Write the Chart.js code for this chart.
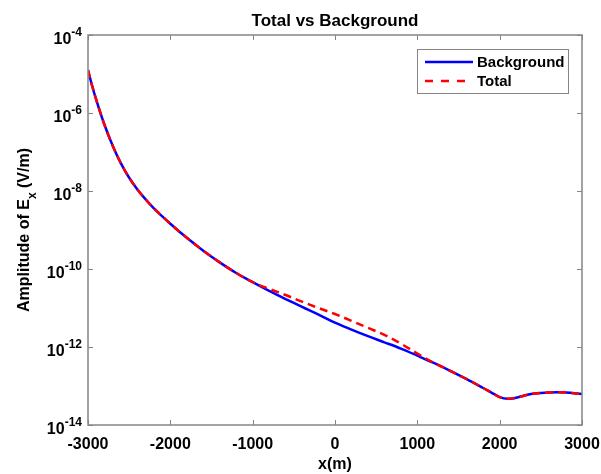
<!DOCTYPE html>
<html>
<head>
<meta charset="utf-8">
<script src="https://cdn.jsdelivr.net/npm/chart.js@4/dist/chart.umd.min.js"></script>
<style>
  html, body { margin: 0; padding: 0; background: #fff; }
  #wrap { width: 601px; height: 474px; position: relative; }
</style>
</head>
<body>
<div id="wrap"><canvas id="chart"></canvas></div>
<script>
/* ─── data ──────────────────────────────────────────── */
const xValues = [-3000, -2950, -2900, -2800, -2700, -2600, -2500, -2400, -2300, -2200,
                 -2000, -1800, -1600, -1400, -1200, -1000, -800, -600, -400, -200,
                 0, 200, 400, 600, 800, 1000, 1200, 1400, 1600, 1800,
                 1900, 2000, 2100, 2200, 2300, 2400, 2600, 2800, 3000];

const backgroundValues = [1.26e-5, 5.0e-6, 2.19e-6, 5.0e-7, 1.45e-7, 5.1e-8, 2.19e-8, 1.1e-8, 6.1e-9, 3.6e-9,
                          1.45e-9, 6.3e-10, 2.95e-10, 1.48e-10, 7.9e-11, 4.6e-11, 2.75e-11, 1.7e-11, 1.07e-11, 6.8e-12,
                          4.2e-12, 2.8e-12, 1.9e-12, 1.32e-12, 9.1e-13, 6.0e-13, 3.9e-13, 2.45e-13, 1.5e-13, 8.9e-14,
                          6.8e-14, 5.2e-14, 4.7e-14, 5.0e-14, 5.7e-14, 6.3e-14, 6.8e-14, 6.8e-14, 6.2e-14];

const totalValues      = [1.26e-5, 5.0e-6, 2.19e-6, 5.0e-7, 1.45e-7, 5.1e-8, 2.19e-8, 1.1e-8, 6.1e-9, 3.6e-9,
                          1.45e-9, 6.3e-10, 2.95e-10, 1.48e-10, 7.9e-11, 4.6e-11, 3.1e-11, 2.15e-11, 1.45e-11, 1.0e-11,
                          7.0e-12, 4.7e-12, 3.1e-12, 2.05e-12, 1.22e-12, 6.8e-13, 3.95e-13, 2.45e-13, 1.5e-13, 8.9e-14,
                          6.8e-14, 5.2e-14, 4.7e-14, 5.0e-14, 5.7e-14, 6.3e-14, 6.8e-14, 6.8e-14, 6.2e-14];

const xTicks = [-3000, -2000, -1000, 0, 1000, 2000, 3000];
const yTickExponents = [-4, -6, -8, -10, -12, -14];
const seriesNames = ['Background', 'Total'];

const TITLE  = 'Total vs Background';
const XLABEL = 'x(m)';

const AXIS_COLOR = '#858585';
const FONT = '"Liberation Sans", Arial, sans-serif';

/* ─── MATLAB-like axes decoration ───────────────────── */
const matlabAxes = {
  id: 'matlabAxes',
  afterDatasetsDraw(chart) {
    const { ctx, chartArea: a, scales: { x, y } } = chart;
    ctx.save();

    // box
    ctx.strokeStyle = AXIS_COLOR;
    ctx.lineWidth = 1.5;
    ctx.strokeRect(a.left, a.top, a.right - a.left, a.bottom - a.top);

    // inward ticks
    ctx.lineWidth = 1;
    xTicks.forEach(v => {
      const px = Math.round(x.getPixelForValue(v)) + 0.5;
      ctx.beginPath();
      ctx.moveTo(px, a.bottom); ctx.lineTo(px, a.bottom - 5);
      ctx.moveTo(px, a.top);    ctx.lineTo(px, a.top + 5);
      ctx.stroke();
    });
    yTickExponents.forEach(e => {
      const py = Math.round(y.getPixelForValue(Math.pow(10, e))) + 0.5;
      ctx.beginPath();
      ctx.moveTo(a.left, py);  ctx.lineTo(a.left + 5, py);
      ctx.moveTo(a.right, py); ctx.lineTo(a.right - 5, py);
      ctx.stroke();
    });

    // x tick labels
    ctx.fillStyle = '#000';
    ctx.font = `bold 16px ${FONT}`;
    ctx.textAlign = 'center';
    ctx.textBaseline = 'alphabetic';
    xTicks.forEach(v => ctx.fillText(String(v), x.getPixelForValue(v), 449));

    // y tick labels 10^e
    yTickExponents.forEach(e => {
      const py = y.getPixelForValue(Math.pow(10, e));
      const exp = String(e);
      ctx.font = `bold 12px ${FONT}`;
      const ew = ctx.measureText(exp).width;
      const right = 82;
      ctx.textAlign = 'left';
      ctx.fillText(exp, right - ew, py + 1);
      ctx.font = `bold 16px ${FONT}`;
      ctx.textAlign = 'right';
      ctx.fillText('10', right - ew, py + 9);
    });

    // title
    ctx.font = `bold 17px ${FONT}`;
    ctx.textAlign = 'center';
    ctx.fillText(TITLE, (a.left + a.right) / 2, 26);

    // x label
    ctx.font = `bold 16px ${FONT}`;
    ctx.fillText(XLABEL, (a.left + a.right) / 2, 469);

    // y label (rotated) with subscript
    ctx.save();
    ctx.translate(29, (a.top + a.bottom) / 2);
    ctx.rotate(-Math.PI / 2);
    const partA = 'Amplitude of E';
    const partB = ' (V/m)';
    ctx.font = `bold 16px ${FONT}`;
    const wA = ctx.measureText(partA).width;
    const wB = ctx.measureText(partB).width;
    ctx.font = `bold 12px ${FONT}`;
    const wS = ctx.measureText('x').width;
    let cx = -(wA + wS + wB) / 2;
    ctx.textAlign = 'left';
    ctx.font = `bold 16px ${FONT}`;
    ctx.fillText(partA, cx, 0); cx += wA;
    ctx.font = `bold 12px ${FONT}`;
    ctx.fillText('x', cx, 7); cx += wS;
    ctx.font = `bold 16px ${FONT}`;
    ctx.fillText(partB, cx, 0);
    ctx.restore();

    // legend
    const lx = 417, ly = 49, lw = 151, lh = 44;
    ctx.fillStyle = '#fff';
    ctx.fillRect(lx, ly, lw, lh);
    ctx.strokeStyle = AXIS_COLOR;
    ctx.lineWidth = 1;
    ctx.strokeRect(lx + 0.5, ly + 0.5, lw, lh);
    const rows = [
      { name: seriesNames[0], color: '#0000ff', dash: [],     y: 62 },
      { name: seriesNames[1], color: '#ff0000', dash: [8, 8], y: 81 },
    ];
    rows.forEach(r => {
      ctx.strokeStyle = r.color;
      ctx.lineWidth = 2.5;
      ctx.setLineDash(r.dash);
      ctx.beginPath();
      ctx.moveTo(425, r.y); ctx.lineTo(473, r.y);
      ctx.stroke();
      ctx.setLineDash([]);
      ctx.fillStyle = '#000';
      ctx.font = `bold 15px ${FONT}`;
      ctx.textAlign = 'left';
      ctx.textBaseline = 'middle';
      ctx.fillText(r.name, 477, r.y + 1);
    });

    ctx.restore();
  },
};

const zeroSize = scale => { scale.width = 0; scale.height = 0; };

new Chart(document.getElementById('chart'), {
  type: 'line',
  data: {
    datasets: [
      {
        label: seriesNames[1],
        data: xValues.map((x, i) => ({ x, y: totalValues[i] })),
        borderColor: '#ff0000',
        borderWidth: 2.5,
        borderDash: [8, 5],
        pointRadius: 0,
        tension: 0.35,
        order: 0,
      },
      {
        label: seriesNames[0],
        data: xValues.map((x, i) => ({ x, y: backgroundValues[i] })),
        borderColor: '#0000ff',
        borderWidth: 2.5,
        pointRadius: 0,
        tension: 0.35,
        order: 1,
      },
    ],
  },
  options: {
    responsive: true,
    maintainAspectRatio: false,
    animation: false,
    layout: { padding: { left: 88, top: 35, right: 19, bottom: 49 } },
    plugins: { legend: { display: false }, tooltip: { enabled: false } },
    scales: {
      x: {
        type: 'linear', min: -3000, max: 3000,
        grid: { display: false, drawTicks: false },
        border: { display: false },
        ticks: { display: false },
        afterFit: zeroSize,
      },
      y: {
        type: 'logarithmic', min: 1e-14, max: 1e-4,
        grid: { display: false, drawTicks: false },
        border: { display: false },
        ticks: { display: false },
        afterFit: zeroSize,
      },
    },
  },
  plugins: [matlabAxes],
});
</script>
</body>
</html>
